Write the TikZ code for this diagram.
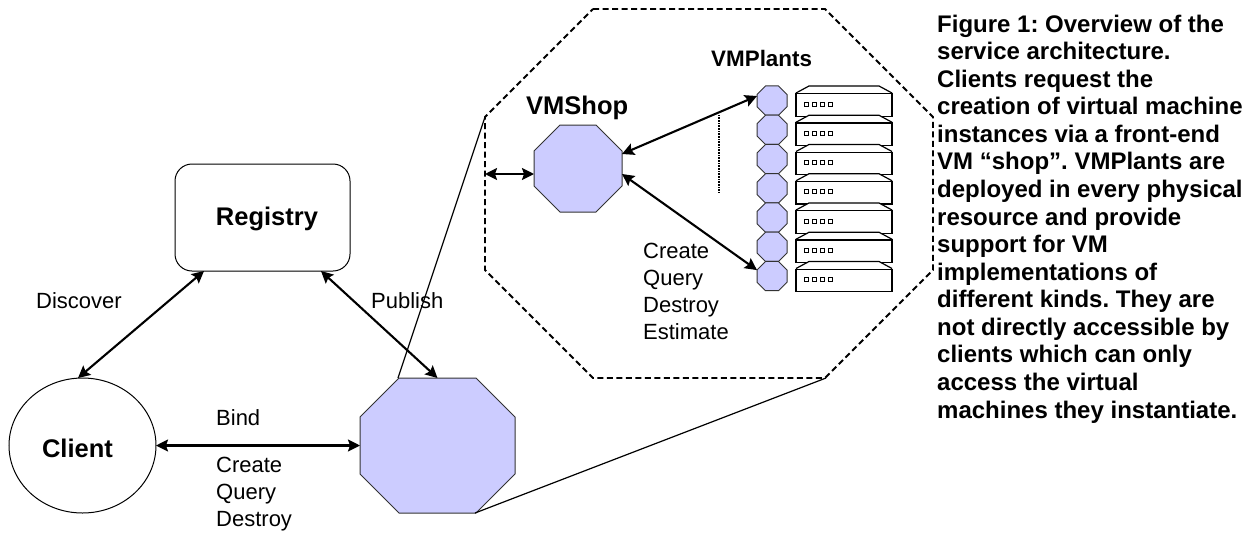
\documentclass[tikz,border=0pt]{standalone}
\usepackage{fontspec}
\setmainfont{Liberation Sans}
\usetikzlibrary{shapes.geometric,arrows.meta}
\definecolor{vmfill}{HTML}{CCCCFF}
\tikzset{
  x=1pt,y=-1pt,
  octa/.style={draw=black!80,line width=1pt,fill=vmfill,line join=miter},
  portbox/.style={inner sep=0pt,outer sep=0pt},
  link/.style={line width=2.1pt,{Stealth[length=12pt,width=12pt,inset=2pt]}-{Stealth[length=12pt,width=12pt,inset=2pt]}},
  zoomline/.style={line width=1.2pt,black},
  lab/.style={font=\fontsize{22}{27}\selectfont,align=left,inner sep=0pt},
  blab/.style={font=\fontsize{25.5}{30}\bfseries\selectfont,inner sep=0pt},
  rack/.style={draw=black,line width=1.2pt,fill=white},
  led/.style={draw=black,line width=1pt,fill=white},
}
% \octagonnode{name}{cx}{cy}{w}{h}{chamfer}{style}
\newcommand{\octagonnode}[7]{%
  \pgfmathsetmacro{\hw}{#4/2}\pgfmathsetmacro{\hh}{#5/2}%
  \pgfmathsetmacro{\ax}{\hw-#6}\pgfmathsetmacro{\ay}{\hh-#6}%
  \draw[#7,shift={(#2,#3)}] (-\ax,-\hh) -- (\ax,-\hh) -- (\hw,-\ay) -- (\hw,\ay) -- (\ax,\hh) -- (-\ax,\hh) -- (-\hw,\ay) -- (-\hw,-\ay) -- cycle;
  \node[portbox,minimum width=#4 pt,minimum height=#5 pt] (#1) at (#2,#3) {};
}
\begin{document}
\frenchspacing
\begin{tikzpicture}
\useasboundingbox (0,0) rectangle (1252,533);
% zoom frame
\octagonnode{frame}{709}{193.5}{448}{369}{108}{draw=black,line width=1.8pt,dash pattern=on 6pt off 3.5pt}
\node[draw=black,line width=1pt,rounded corners=17pt,minimum width=175pt,minimum height=107pt,portbox,fill=white] (registry) at (262.5,217.5) {};
\node[ellipse,draw=black,line width=1pt,minimum width=147pt,minimum height=135pt,portbox] (client) at (82.5,445.5) {};
\node[blab,anchor=base] (registrylab) at (267,225) {Registry};
\node[blab,anchor=base] (clientlab) at (77.5,457) {Client};
\octagonnode{host}{437.5}{445.5}{155}{135}{39}{octa}
\octagonnode{shop}{578}{168.5}{88}{87}{26}{octa}
% zoom lines
\draw[zoomline] ([xshift=38pt]host.north west) -- ([yshift=76.5pt]frame.west);
\draw[zoomline] ([xshift=-40pt]host.south east) -- ([xshift=117pt]frame.south);
% plants and racks
\foreach \i in {1,...,7}{
  \pgfmathsetmacro{\yy}{100.6+(\i-1)*29.25}
  \octagonnode{plant\i}{772}{\yy}{30}{29.25}{8.5}{octa}
  \draw[rack] (796,\yy-7.6) -- (809,\yy-14.6) -- (879,\yy-14.6) -- (892,\yy-7.6);
  \node[rack,minimum width=96pt,minimum height=22.5pt,portbox] (rack\i) at (844,\yy+4.4) {};
  \foreach \k in {0,1,2,3}{
    \node[led,minimum size=4pt,inner sep=0pt] (led\i\k) at (806+\k*8,\yy+3.4) {};
  }
}
\coordinate (dotA) at (719,115);
\coordinate (dotB) at (719,192);
\draw[line width=1.4pt,dash pattern=on 1pt off 0.6pt] (dotA) -- (dotB);
% connectors
\draw[link] ([xshift=29pt]registry.south west) -- ([xshift=-4.5pt]client.north);
\draw[link] ([xshift=-29pt]registry.south east) -- (host.north);
\draw[link] (client.east) -- (host.west);
\draw[link] ([yshift=19.5pt]frame.west) -- ([yshift=-5.5pt]shop.west);
\draw[link] ([yshift=14.5pt]shop.east) -- ([yshift=4.6pt]plant1.west);
\draw[link] ([yshift=-5.5pt]shop.east) -- ([yshift=6pt]plant7.west);
% labels
\node[lab,anchor=base west] (discover) at (36,308) {Discover};
\node[lab,anchor=base west] (publish) at (371,308) {Publish};
\node[lab,anchor=base west] (bind) at (216,425) {Bind};
\node[lab,anchor=north west] (ops) at (216,457) {Create\\Query\\Destroy};
\node[lab,anchor=north west] (ops2) at (643,243) {Create\\Query\\Destroy\\Estimate};
\node[blab,anchor=base west] (shoplab) at (526,114) {VMShop};
\node[anchor=base west,inner sep=0pt,font=\fontsize{22.4}{26}\bfseries\selectfont] (plantlab) at (711,66) {VMPlants};
\node[anchor=north west,align=left,inner sep=0pt,font=\fontsize{24}{27.57}\bfseries\selectfont] (caption) at (937,14.5) {Figure 1: Overview of the\\service architecture.\\Clients request the\\creation of virtual machine\\instances via a front-end\\VM “shop”. VMPlants are\\deployed in every physical\\resource and provide\\support for VM\\implementations of\\different kinds. They are\\not directly accessible by\\clients which can only\\access the virtual\\machines they instantiate.};
\end{tikzpicture}
\end{document}
